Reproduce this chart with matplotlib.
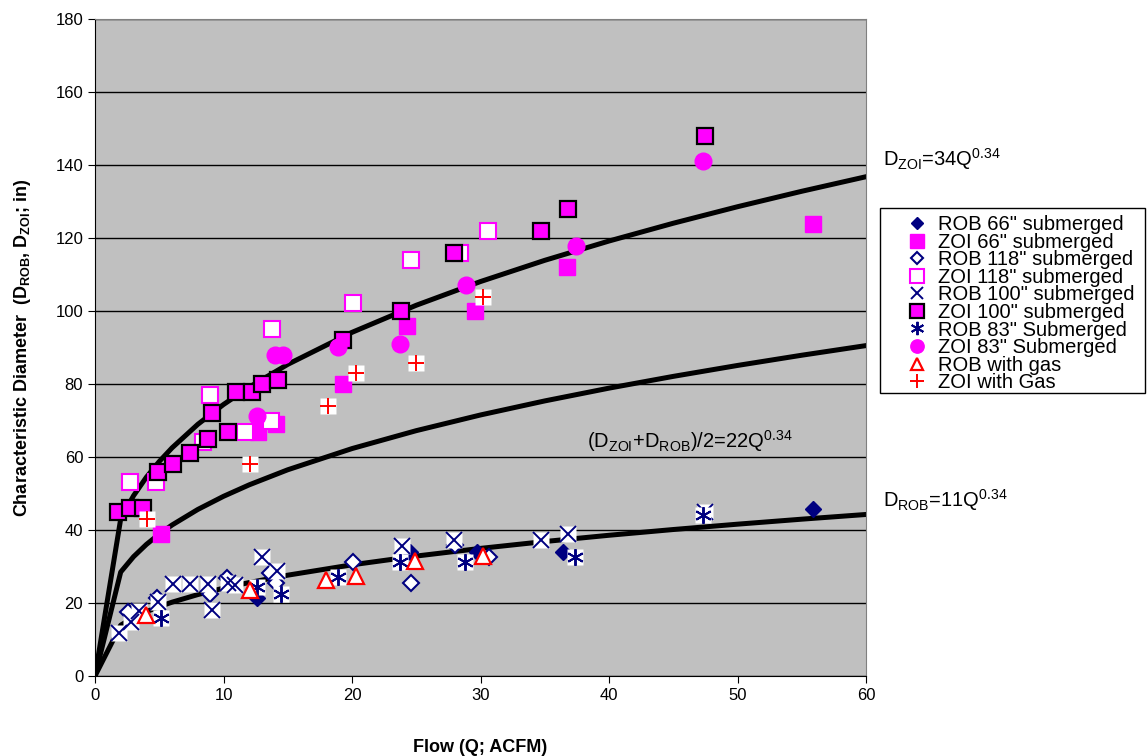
import numpy as np
import matplotlib
matplotlib.use("Agg")
import matplotlib.pyplot as plt
from matplotlib.patches import Rectangle

plt.rcParams['font.family'] = ['Liberation Sans', 'DejaVu Sans']
plt.rcParams['mathtext.fontset'] = 'custom'
plt.rcParams['mathtext.rm'] = 'Liberation Sans'
plt.rcParams['mathtext.it'] = 'Liberation Sans:italic'
plt.rcParams['mathtext.bf'] = 'Liberation Sans:bold'

# data (Q in ACFM, D in inches)
rob66_q = [12.6, 24.5, 29.7, 36.45, 55.9]
rob66_d = [21.3, 34.0, 34.0, 34.0, 45.7]

zoi66_q = [5.14, 12.7, 14.1, 19.3, 24.3, 29.6, 36.7, 55.9]
zoi66_d = [38.9, 66.9, 69.0, 80.0, 96.0, 100.0, 112.0, 123.8]

rob118_q = [2.6, 4.8, 8.95, 10.25, 13.6, 14.1, 20.1, 24.6, 28.0, 30.7]
rob118_d = [17.6, 21.3, 22.6, 26.8, 28.1, 25.4, 31.3, 25.6, 35.9, 32.7]

zoi118_q = [2.72, 4.75, 8.43, 8.95, 11.7, 13.7, 13.75, 20.1, 24.6, 28.4, 30.6]
zoi118_d = [53.1, 53.1, 64.2, 77.0, 66.9, 70.0, 95.0, 102.1, 114.0, 116.0, 122.0]

rob100_q = [1.87, 2.78, 3.4, 4.93, 6.1, 7.39, 8.82, 9.13, 10.38, 10.9, 12.97, 14.2,
            23.9, 27.9, 34.7, 36.8, 47.5]
rob100_d = [11.7, 14.9, 17.8, 20.2, 25.2, 25.2, 25.2, 18.1, 25.4, 24.9, 32.5, 28.7,
            35.6, 37.3, 37.3, 39.0, 45.0]

zoi100_q = [1.81, 2.72, 3.76, 4.93, 6.1, 7.39, 8.82, 9.08, 10.38, 10.95, 12.2, 12.97,
            14.27, 19.3, 23.8, 27.9, 34.7, 36.8, 47.5]
zoi100_d = [45.0, 46.1, 46.1, 56.0, 58.0, 61.0, 64.8, 72.0, 66.9, 77.9, 77.9, 79.9,
            81.1, 92.0, 100.0, 116.0, 121.9, 127.9, 148.0]

rob83_q = [5.14, 12.6, 14.5, 18.9, 23.7, 28.8, 37.35, 47.3]
rob83_d = [15.8, 24.5, 22.4, 27.0, 31.3, 31.3, 32.7, 44.0]

zoi83_q = [12.6, 14.0, 14.6, 18.9, 23.7, 28.9, 37.4, 47.3]
zoi83_d = [71.3, 88.0, 88.0, 90.0, 91.0, 107.0, 117.9, 141.0]

robgas_q = [4.0, 12.1, 18.0, 20.3, 24.9, 30.2]
robgas_d = [16.7, 23.6, 26.3, 27.4, 31.6, 32.9]

zoigas_q = [4.07, 12.1, 18.1, 20.3, 24.95, 30.2]
zoigas_d = [42.9, 58.0, 74.0, 82.9, 85.8, 103.9]

# fitted curves D = a * Q^0.34  (middle one is the mean of the other two)
fit_q = np.array([0, 2, 3, 4, 5, 6, 8, 10, 12, 15, 20, 25, 30, 35, 40, 45, 50, 55, 60])
fit_coef = [34, 22.5, 11]
fit_exp = 0.34

navy = '#000080'
mag = '#FF00FF'

fig = plt.figure(figsize=(11.48, 7.56), dpi=100)
ax = fig.add_axes([95/1148, 1-676/756, (866-95)/1148, (676-19)/756])
ax.set_facecolor('#C0C0C0')

for a in fit_coef:
    ax.plot(fit_q, a*fit_q**fit_exp, color='black', lw=3.6, zorder=2, solid_joinstyle='round')

def white_bg(q, d):
    ax.plot(q, d, ls='none', marker='s', ms=12, mfc='white', mec='none', zorder=3)

ax.plot(rob66_q, rob66_d, ls='none', marker='D', ms=8, mfc=navy, mec=navy, zorder=3,
        label="ROB 66\" submerged")
ax.plot(zoi66_q, zoi66_d, ls='none', marker='s', ms=12, mfc=mag, mec=mag, zorder=3,
        label="ZOI 66\" submerged")
ax.plot(rob118_q, rob118_d, ls='none', marker='D', ms=8, mfc='white', mec=navy, mew=1.5,
        zorder=3, label="ROB 118\" submerged")
ax.plot(zoi118_q, zoi118_d, ls='none', marker='s', ms=12, mfc='white', mec=mag, mew=1.5,
        zorder=3, label="ZOI 118\" submerged")
white_bg(rob100_q, rob100_d)
ax.plot(rob100_q, rob100_d, ls='none', marker='x', ms=11, mec=navy, mew=1.4, zorder=3,
        label="ROB 100\" submerged")
ax.plot(zoi100_q, zoi100_d, ls='none', marker='s', ms=12, mfc=mag, mec='black', mew=1.6,
        zorder=3, label="ZOI 100\" submerged")
white_bg(rob83_q, rob83_d)
ax.plot(rob83_q, rob83_d, ls='none', marker=(6, 2, 0), ms=12, mec=navy, mew=1.4, zorder=3,
        label="ROB 83\" Submerged")
ax.plot(zoi83_q, zoi83_d, ls='none', marker='o', ms=12, mfc=mag, mec=mag, zorder=3,
        label="ZOI 83\" Submerged")
ax.plot(robgas_q, robgas_d, ls='none', marker='^', ms=11, mfc='white', mec='red', mew=1.6,
        zorder=3, label="ROB with gas")
white_bg(zoigas_q, zoigas_d)
ax.plot(zoigas_q, zoigas_d, ls='none', marker='+', ms=12, mec='red', mew=1.4, zorder=3,
        label="ZOI with Gas")

ax.set_xlim(0, 60)
ax.set_ylim(0, 180)
ax.set_xticks(range(0, 61, 10))
ax.set_yticks(range(0, 181, 20))
ax.grid(axis='y', color='black', lw=1)
ax.set_axisbelow(True)
ax.tick_params(labelsize=12, direction='out', length=5, color='black')
ax.spines['right'].set_color('#808080')
ax.spines['top'].set_color('#808080')

ax.set_xlabel('Flow (Q; ACFM)', fontsize=13, fontweight='bold', labelpad=26)
ax.set_ylabel(r'Characteristic Diameter  (D$_{\mathbf{ROB}}$, D$_{\mathbf{ZOI}}$; in)',
              fontsize=13, fontweight='bold', labelpad=16)

ax.text(61.3, 141.5, r'D$_{\mathrm{ZOI}}$=34Q$^{0.34}$', fontsize=14.5, va='center',
        ha='left', clip_on=False)
ax.text(38.3, 64.4, r'(D$_{\mathrm{ZOI}}$+D$_{\mathrm{ROB}}$)/2=22Q$^{0.34}$', fontsize=14.5,
        va='center', ha='left')
ax.text(61.3, 48.2, r'D$_{\mathrm{ROB}}$=11Q$^{0.34}$', fontsize=14.5, va='center',
        ha='left', clip_on=False)

# legend box drawn separately, entries packed tightly like the original
fig.patches.append(Rectangle((880/1148, 1-393/756), 265/1148, 185/756, transform=fig.transFigure,
                             facecolor='white', edgecolor='black', lw=1.0, zorder=1))
leg = fig.legend(loc='upper left', bbox_to_anchor=(902/1148, 1-215/756), fontsize=14.5,
                 frameon=False, labelspacing=-0.07, handlelength=1.5, handletextpad=0.3,
                 borderpad=0, borderaxespad=0, markerscale=0.8)
leg.set_zorder(2)

fig.savefig('out.png', dpi=100)
